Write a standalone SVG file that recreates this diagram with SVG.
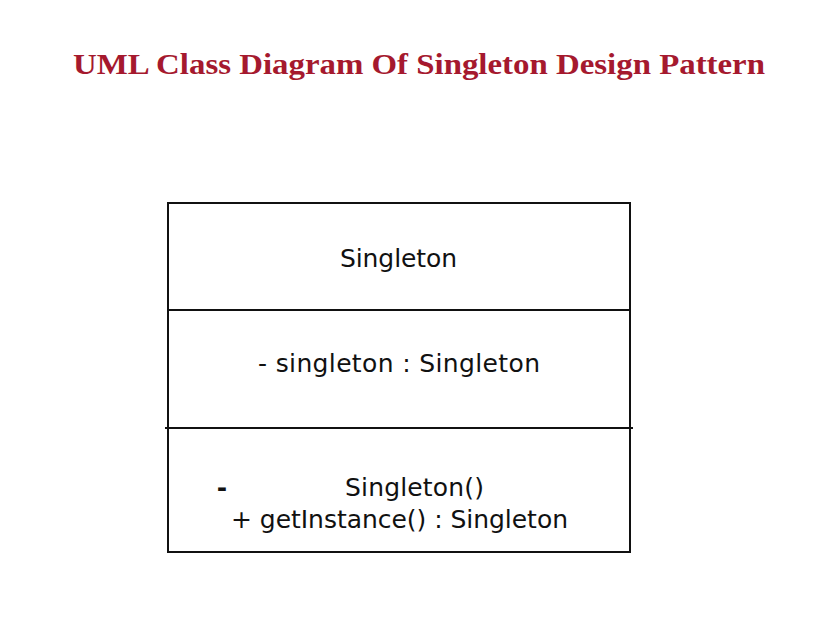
<svg xmlns="http://www.w3.org/2000/svg" width="813" height="635" viewBox="0 0 813 635">
<style>
.title{font-family:"Liberation Serif","Times New Roman",serif;font-weight:bold;font-size:29px;fill:#a5192e}
.t{font-family:"DejaVu Sans",Verdana,sans-serif;font-size:25px;fill:#111}
.ln{stroke:#111;stroke-width:2;fill:none}
</style>
<rect width="813" height="635" fill="#fff"/>
<text class="title" x="419" y="74" text-anchor="middle" textLength="692" lengthAdjust="spacingAndGlyphs">UML Class Diagram Of Singleton Design Pattern</text>
<g id="singleton">
<rect class="ln" x="168" y="203" width="462" height="349"/>
<line class="ln" x1="168" y1="310" x2="630" y2="310"/>
<line class="ln" x1="165" y1="428" x2="633" y2="428"/>
<text class="t" x="398.5" y="267" text-anchor="middle" textLength="117" lengthAdjust="spacing">Singleton</text>
<text class="t" x="399" y="372" text-anchor="middle" textLength="282" lengthAdjust="spacing">- singleton : Singleton</text>
<text class="t" x="222" y="496" text-anchor="middle" font-weight="bold">-</text>
<text class="t" x="414.5" y="496" text-anchor="middle" textLength="139" lengthAdjust="spacing">Singleton()</text>
<text class="t" x="399.5" y="528" text-anchor="middle" textLength="337" lengthAdjust="spacing">+ getInstance() : Singleton</text>
</g>
</svg>
